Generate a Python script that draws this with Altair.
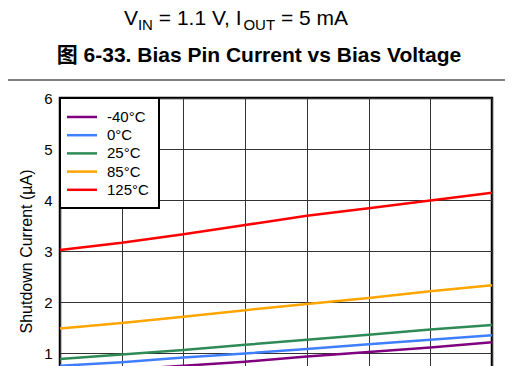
import altair as alt
import pandas as pd

# ---- data ----
bias_v = [2.0, 2.5, 3.0, 3.5, 4.0, 4.5, 5.0, 5.5]
temps = ["-40°C", "0°C", "25°C", "85°C", "125°C"]
i_m40 = [0.60, 0.67, 0.75, 0.83, 0.93, 1.02, 1.11, 1.21]
i_0 = [0.75, 0.82, 0.91, 0.99, 1.08, 1.17, 1.26, 1.35]
i_25 = [0.88, 0.97, 1.06, 1.16, 1.26, 1.36, 1.46, 1.55]
i_85 = [1.48, 1.59, 1.71, 1.84, 1.96, 2.08, 2.21, 2.33]
i_125 = [3.02, 3.16, 3.33, 3.51, 3.69, 3.84, 3.99, 4.14]
y_ticks = [0, 1, 2, 3, 4, 5, 6]
colors = ["#800080", "#3f7fff", "#2e8b57", "#ffa500", "#ff0000"]

rows = []
for t, series in zip(temps, [i_m40, i_0, i_25, i_85, i_125]):
    for v, i in zip(bias_v, series):
        rows.append({"Bias": v, "Current": i, "Temp": t})
df = pd.DataFrame(rows)

FONT = "Liberation Sans"
W, H = 432, 306
PAD_L, PAD_T = 52, 90

# Arial / Liberation Sans advance widths (per 1000 em)
AW = {" ": 278, "=": 584, "1": 556, ".": 278, "V": 667, ",": 278, "I": 278,
      "N": 722, "O": 778, "U": 722, "T": 611, "5": 556, "m": 833, "A": 667}


def tw(s, size):
    return sum(AW[c] for c in s) * size / 1000.0


MAIN, SUB = 21, 15
# (text, font size, baseline shift, leading gap in spaces)
segments = [("V", MAIN, 0, 0), ("IN", SUB, 5, 0), ("= 1.1 V, I", MAIN, 0, 1),
            ("OUT", SUB, 5, 0), ("= 5 mA", MAIN, 0, 1)]
total = sum(tw(s, f) + g * tw(" ", f) for s, f, _, g in segments)
center_x = 236 - 60
line1_base = -73
x0 = center_x - total / 2

layers = []
for s, f, dy, g in segments:
    x0 += g * tw(" ", f)
    layers.append(
        alt.Chart(pd.DataFrame({"t": [s]}))
        .mark_text(align="left", baseline="alphabetic", font=FONT, fontSize=f, color="black")
        .encode(x=alt.value(x0), y=alt.value(line1_base + dy), text="t:N")
    )
    x0 += tw(s, f)

title2 = (
    alt.Chart(pd.DataFrame({"t": ["图 6-33. Bias Pin Current vs Bias Voltage"]}))
    .mark_text(align="center", baseline="alphabetic", font="Liberation Sans, Noto Sans CJK SC",
               fontSize=21, fontWeight="bold", color="black")
    .encode(x=alt.value(259 - 60), y=alt.value(-36), text="t:N")
)

sep = (
    alt.Chart(pd.DataFrame({"a": [0]}))
    .mark_rule(color="#808080", strokeWidth=2)
    .encode(x=alt.value(-60), x2=alt.value(460), y=alt.value(-18))
)

lines = alt.Chart(df).mark_line(strokeWidth=2.5).encode(
    x=alt.X("Bias:Q", scale=alt.Scale(domain=[2.0, 5.5], nice=False, zero=False),
            axis=alt.Axis(values=bias_v, title="Bias Voltage (V)", format=".1f")),
    y=alt.Y("Current:Q", scale=alt.Scale(domain=[0, 6], nice=False),
            axis=alt.Axis(values=y_ticks, title="Shutdown Current (µA)", titlePadding=9)),
    color=alt.Color(
        "Temp:N",
        scale=alt.Scale(domain=temps, range=colors),
        legend=alt.Legend(
            title=None, orient="none", legendX=0, legendY=0,
            symbolType="M-1.6,0H2.4", symbolSize=225, symbolStrokeWidth=2.5,
            labelFontSize=15, labelFont=FONT, labelColor="black", labelOffset=19,
            rowPadding=1.2, padding=10, fillColor="white", strokeColor="black",
        ),
    ),
)

chart = (
    alt.layer(lines, title2, sep, *layers)
    .properties(width=W, height=H, autosize=alt.AutoSizeParams(type="none"),
                padding={"left": PAD_L, "top": PAD_T, "right": 13, "bottom": 40})
    .configure_view(stroke="black", strokeWidth=2.5)
    .configure_axis(grid=True, gridColor="#333333", gridWidth=1, ticks=False, domain=False,
                    labelFont=FONT, labelFontSize=15, labelColor="black", labelPadding=8,
                    titleFont=FONT, titleFontSize=16, titleFontWeight="normal", titleColor="black")
    .configure_legend(strokeWidth=2)
)

chart.save("out.html", embed_options={"renderer": "svg", "actions": False})
